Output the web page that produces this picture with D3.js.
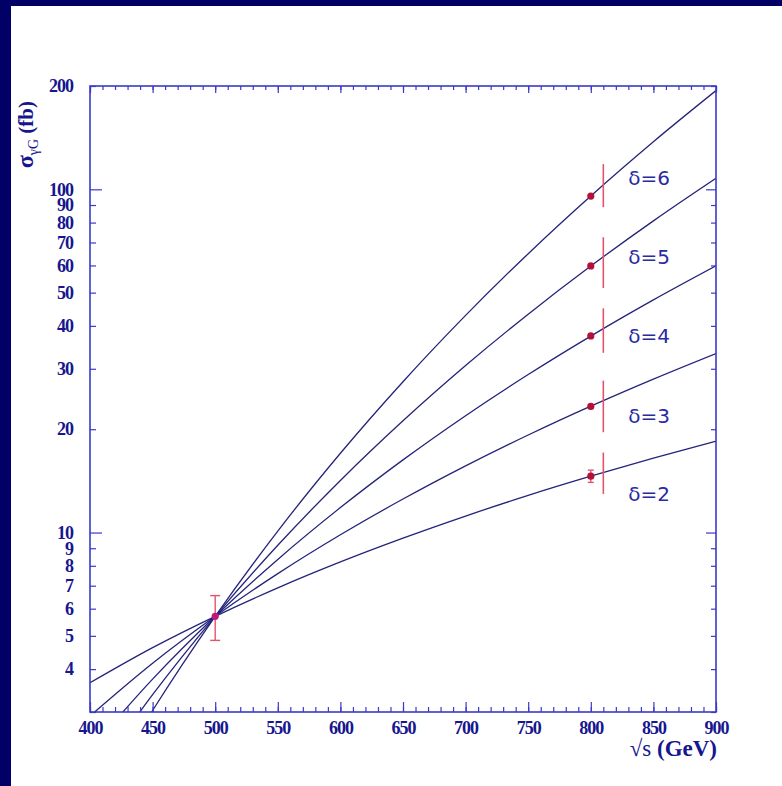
<!DOCTYPE html>
<html>
<head>
<meta charset="utf-8">
<script src="https://cdn.jsdelivr.net/npm/d3@7"></script>
<style>
  html, body { margin: 0; padding: 0; background: #fff; }
  svg { display: block; }
</style>
</head>
<body>
<script>
// sqrt(s) in GeV, sigma in fb
var energy = [400, 450, 500, 550, 600, 650, 700, 750, 800, 850, 900];
var sigmaD2 = [3.65, 4.62, 5.7, 6.90, 8.21, 9.63, 11.17, 12.83, 14.59, 16.47, 18.47];
var sigmaD3 = [2.92, 4.16, 5.7, 7.59, 9.85, 12.52, 15.64, 19.24, 23.35, 28.00, 33.24];
var sigmaD4 = [2.33, 3.74, 5.7, 8.35, 11.82, 16.28, 21.90, 28.86, 37.36, 47.61, 59.84];
var sigmaD5 = [1.87, 3.37, 5.7, 9.18, 14.18, 21.16, 30.66, 43.28, 59.77, 80.93, 107.7];
var sigmaD6 = [1.49, 3.03, 5.7, 10.10, 17.02, 27.51, 42.92, 64.93, 95.63, 137.6, 193.9];

var deltas = [2, 3, 4, 5, 6];
var seriesList = [sigmaD2, sigmaD3, sigmaD4, sigmaD5, sigmaD6];

// measured points at 800 GeV and the band bars drawn just right of them
var pointAt800 = [14.6, 23.3, 37.4, 59.8, 95.6];
var barEnergy = 810;
var barLow = [12.96, 19.6, 33.4, 51.6, 88.7];
var barHigh = [17.1, 27.7, 45.0, 72.5, 118.4];
var labelSigma = [13.0, 21.9, 37.4, 63.4, 108];

// common point at 500 GeV
var point500 = 5.7, point500Low = 4.85, point500High = 6.55;
var point800Low = 14.0, point800High = 15.2;

var xMajor = d3.range(400, 901, 50);
var xMinor = d3.range(400, 901, 10);
var yLabels = [4, 5, 6, 7, 8, 9, 10, 20, 30, 40, 50, 60, 70, 80, 90, 100, 200];
var yMinor = [3, 4, 5, 6, 7, 8, 9, 20, 30, 40, 50, 60, 70, 80, 90, 200];
var yMajor = [10, 100];

var W = 782, H = 786;
var pad = { left: 90, right: 716, top: 86, bottom: 712 };

var svg = d3.select('body').append('svg')
    .attr('width', W)
    .attr('height', H);

// navy frame strips
svg.append('rect').attr('x', 0).attr('y', 0).attr('width', W).attr('height', 6).attr('fill', '#000066');
svg.append('rect').attr('x', 0).attr('y', 0).attr('width', 11).attr('height', H).attr('fill', '#000066');

var x = d3.scaleLinear().domain([400, 900]).range([pad.left, pad.right]);
var y = d3.scaleLog().domain([3, 200]).range([pad.bottom, pad.top]);

var axisColor = '#3a3ac8';
var textColor = '#16168e';

svg.append('defs').append('clipPath').attr('id', 'plot')
  .append('rect')
    .attr('x', pad.left).attr('y', pad.top)
    .attr('width', pad.right - pad.left).attr('height', pad.bottom - pad.top);

// curves
var line = d3.line()
    .x(function(d, i) { return x(energy[i]); })
    .y(function(d) { return y(d); })
    .curve(d3.curveMonotoneX);

svg.append('g').attr('clip-path', 'url(#plot)')
  .selectAll('path')
  .data(seriesList)
  .join('path')
    .attr('d', line)
    .attr('fill', 'none')
    .attr('stroke', '#24247a')
    .attr('stroke-width', 1.3);

// axes
function styleAxis(g) {
  g.select('.domain').remove();
  g.selectAll('line').attr('stroke', axisColor).attr('stroke-width', 1.2);
  g.selectAll('text')
    .attr('fill', textColor)
    .attr('font-family', '"Liberation Serif", "Times New Roman", serif')
    .attr('font-weight', 'bold')
    .attr('font-size', 18)
    .attr('letter-spacing', -1);
}

svg.append('g').attr('transform', 'translate(0,' + pad.bottom + ')')
  .call(d3.axisBottom(x).tickValues(xMinor).tickSize(-5).tickFormat(''))
  .call(styleAxis);
svg.append('g').attr('transform', 'translate(0,' + pad.bottom + ')')
  .call(d3.axisBottom(x).tickValues(xMajor).tickSize(-10).tickPadding(9).tickFormat(d3.format('d')))
  .call(styleAxis);
svg.append('g').attr('transform', 'translate(0,' + pad.top + ')')
  .call(d3.axisTop(x).tickValues(xMinor).tickSize(-4).tickFormat(''))
  .call(styleAxis);
svg.append('g').attr('transform', 'translate(0,' + pad.top + ')')
  .call(d3.axisTop(x).tickValues(xMajor).tickSize(-7).tickFormat(''))
  .call(styleAxis);

svg.append('g').attr('transform', 'translate(' + pad.left + ',0)')
  .call(d3.axisLeft(y).tickValues(yMinor).tickSize(-6).tickFormat(''))
  .call(styleAxis);
svg.append('g').attr('transform', 'translate(' + pad.left + ',0)')
  .call(d3.axisLeft(y).tickValues(yMajor).tickSize(-12).tickFormat(''))
  .call(styleAxis);
svg.append('g').attr('transform', 'translate(' + pad.left + ',0)')
  .call(d3.axisLeft(y).tickValues(yLabels).tickSize(0).tickPadding(17).tickFormat(d3.format('d')))
  .call(styleAxis);
svg.append('g').attr('transform', 'translate(' + pad.right + ',0)')
  .call(d3.axisRight(y).tickValues(yMinor).tickSize(-5).tickFormat(''))
  .call(styleAxis);
svg.append('g').attr('transform', 'translate(' + pad.right + ',0)')
  .call(d3.axisRight(y).tickValues(yMajor).tickSize(-10).tickFormat(''))
  .call(styleAxis);

svg.append('rect')
    .attr('x', pad.left).attr('y', pad.top)
    .attr('width', pad.right - pad.left).attr('height', pad.bottom - pad.top)
    .attr('fill', 'none')
    .attr('stroke', axisColor)
    .attr('stroke-width', 1.6);

// bars at 810 GeV
var red = '#e2546c';
svg.append('g').selectAll('line')
  .data(deltas)
  .join('line')
    .attr('x1', x(barEnergy)).attr('x2', x(barEnergy))
    .attr('y1', function(d, i) { return y(barLow[i]); })
    .attr('y2', function(d, i) { return y(barHigh[i]); })
    .attr('stroke', red)
    .attr('stroke-width', 1.6);

// error bars with caps
function errBar(xv, lo, hi, cap) {
  var g = svg.append('g').attr('stroke', red).attr('stroke-width', 1.4);
  g.append('line').attr('x1', x(xv)).attr('x2', x(xv)).attr('y1', y(lo)).attr('y2', y(hi));
  g.append('line').attr('x1', x(xv) - cap).attr('x2', x(xv) + cap).attr('y1', y(lo)).attr('y2', y(lo));
  g.append('line').attr('x1', x(xv) - cap).attr('x2', x(xv) + cap).attr('y1', y(hi)).attr('y2', y(hi));
}
errBar(500, point500Low, point500High, 5);
errBar(800, point800Low, point800High, 3);

svg.append('circle')
    .attr('cx', x(500)).attr('cy', y(point500))
    .attr('r', 3.6)
    .attr('fill', '#c0187a');

svg.append('g').selectAll('circle')
  .data(pointAt800)
  .join('circle')
    .attr('cx', x(800))
    .attr('cy', function(d) { return y(d); })
    .attr('r', 3.6)
    .attr('fill', '#b3103c');

// delta labels
svg.append('g').selectAll('text')
  .data(deltas)
  .join('text')
    .attr('x', x(830))
    .attr('y', function(d, i) { return y(labelSigma[i]); })
    .attr('dy', '0.36em')
    .attr('fill', '#2a2aa4')
    .attr('font-family', '"DejaVu Sans", sans-serif')
    .attr('font-size', 20)
    .text(function(d) { return 'δ=' + d; });

// axis titles
var xt = svg.append('text')
    .attr('x', 717).attr('y', 756)
    .attr('text-anchor', 'end')
    .attr('fill', textColor)
    .attr('font-family', '"Liberation Serif", "Times New Roman", serif')
    .attr('font-size', 23);
xt.append('tspan').text('√s ');
xt.append('tspan').attr('font-weight', 'bold').text('(GeV)');

var yt = svg.append('text')
    .attr('transform', 'translate(33,101) rotate(-90)')
    .attr('text-anchor', 'end')
    .attr('fill', textColor)
    .attr('font-family', '"Liberation Serif", "Times New Roman", serif')
    .attr('font-weight', 'bold')
    .attr('font-size', 21);
yt.append('tspan').attr('font-size', 24).text('σ');
yt.append('tspan').attr('font-size', 14).attr('dy', 5).attr('font-weight', 'normal').text('γG');
yt.append('tspan').attr('dy', -5).text(' (fb)');
</script>
</body>
</html>
